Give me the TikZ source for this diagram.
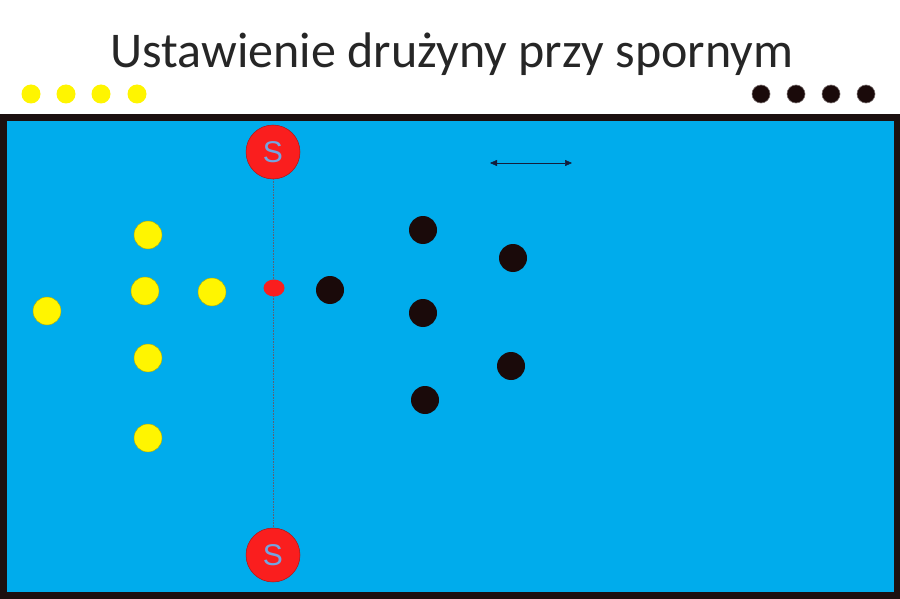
\documentclass[tikz,border=0pt]{standalone}
\usepackage{fontspec}
\setmainfont{Carlito}
\newfontfamily\sfont{Liberation Sans}
\usetikzlibrary{arrows.meta,shapes.geometric}
\definecolor{court}{RGB}{0,172,236}
\definecolor{rim}{RGB}{28,16,16}
\definecolor{ydot}{RGB}{255,245,0}
\definecolor{bdot}{RGB}{26,10,10}
\definecolor{rdot}{RGB}{250,30,30}
\definecolor{stxt}{RGB}{115,165,225}
\definecolor{navy}{RGB}{20,30,60}
\tikzset{
  yp/.style={circle,fill=ydot,draw=ydot!70!black,line width=0.4pt,minimum size=28pt,inner sep=0pt},
  bp/.style={circle,fill=bdot,minimum size=28pt,inner sep=0pt},
  ysm/.style={circle,fill=ydot,minimum size=19pt,inner sep=0pt},
  bsm/.style={circle,fill=bdot,draw=bdot!60!white,line width=0.6pt,minimum size=18pt,inner sep=0pt},
  sp/.style={circle,fill=rdot,draw=rdot!70!black,line width=0.5pt,minimum size=54pt,inner sep=0pt,text=stxt,font=\sfont\fontsize{30}{30}\selectfont},
}
\begin{document}
\begin{tikzpicture}[x=1pt,y=-1pt]
\useasboundingbox (0,0) rectangle (900,599);
\fill[white] (0,0) rectangle (900,599);
\fill[rim] (0,114) rectangle (900,599);
\fill[court] (7,121) rectangle (894,592);
\node[font=\fontsize{50}{50}\selectfont,text=black!85,anchor=base] (title) at (452,68) {Ustawienie drużyny przy spornym};
% bench dots
\node[ysm] (y1) at (31,94) {};
\node[ysm] (y2) at (66,94) {};
\node[ysm] (y3) at (101,94) {};
\node[ysm] (y4) at (137,94) {};
\node[bsm] (b1) at (761,94) {};
\node[bsm] (b2) at (796,94) {};
\node[bsm] (b3) at (831,94) {};
\node[bsm] (b4) at (866,94) {};
% referees
\node[sp] (s1) at (273,152) {S};
\node[sp] (s2) at (273,555) {S};
\draw[navy!70,line width=0.4pt,dash pattern=on 1pt off 0.6pt] (s1) -- (s2);
% ball
\node[ellipse,fill=rdot,minimum width=21pt,minimum height=17pt,inner sep=0pt] (ball) at (274,288) {};
% yellow team
\node[yp] (p1) at (47,311) {};
\node[yp] (p2) at (148,235) {};
\node[yp] (p3) at (145,291) {};
\node[yp] (p4) at (212,292) {};
\node[yp] (p5) at (148,358) {};
\node[yp] (p6) at (148,438) {};
% black team
\node[bp] (q1) at (330,290) {};
\node[bp] (q2) at (423,230) {};
\node[bp] (q3) at (423,313) {};
\node[bp] (q4) at (425,400) {};
\node[bp] (q5) at (513,258) {};
\node[bp] (q6) at (511,366) {};
% arrow
\coordinate (a1) at (490,163);
\coordinate (a2) at (572,163);
\draw[navy,line width=0.5pt,{Triangle[length=7pt,width=6pt]}-{Triangle[length=7pt,width=6pt]}] (a1) -- (a2);
\end{tikzpicture}
\end{document}
